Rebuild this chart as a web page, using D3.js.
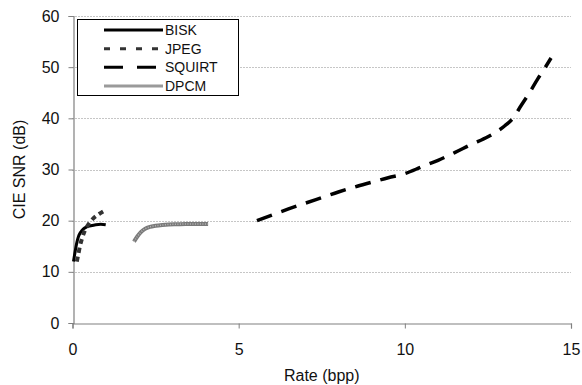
<!DOCTYPE html>
<html>
<head>
<meta charset="utf-8">
<script src="https://cdn.jsdelivr.net/npm/d3@7"></script>
<style>
  html, body { margin: 0; padding: 0; background: #fff; }
  svg { display: block; font-family: "Liberation Sans", Arial, sans-serif; }
</style>
</head>
<body>
<div id="chart"></div>
<script>
// Rate (bpp) vs CIE SNR (dB)
const biskRate = [0.03, 0.08, 0.13, 0.18, 0.25, 0.33, 0.43, 0.55, 0.7, 0.85, 1.0];
const biskSnr  = [12.0, 14.0, 15.7, 16.9, 17.8, 18.4, 18.8, 19.0, 19.2, 19.3, 19.2];

const jpegRate = [0.13, 0.18, 0.23, 0.29, 0.36, 0.45, 0.55, 0.67, 0.8, 0.95];
const jpegSnr  = [12.0, 13.6, 15.2, 16.6, 17.9, 19.0, 19.9, 20.7, 21.3, 21.9];

const squirtRate = [5.55, 6.0, 6.5, 7.0, 7.5, 8.0, 8.5, 9.0, 9.5, 10.0, 10.5, 11.0, 11.5, 12.0, 12.5, 13.0, 13.25, 13.5, 13.75, 14.0, 14.2, 14.4];
const squirtSnr  = [20.0, 21.1, 22.3, 23.4, 24.5, 25.6, 26.6, 27.5, 28.4, 29.2, 30.5, 31.8, 33.3, 34.9, 36.4, 38.5, 40.0, 42.5, 45.0, 47.7, 49.7, 51.8];

const dpcmRate = [1.85, 1.95, 2.05, 2.18, 2.33, 2.5, 2.7, 2.9, 3.15, 3.4, 3.7, 4.08];
const dpcmSnr  = [15.9, 16.9, 17.7, 18.4, 18.8, 19.0, 19.15, 19.25, 19.3, 19.35, 19.35, 19.35];

const xTicks = [0, 5, 10, 15];
const yTicks = [0, 10, 20, 30, 40, 50, 60];
const seriesNames = ['BISK', 'JPEG', 'SQUIRT', 'DPCM'];

const width = 582, height = 385;
const margin = { top: 16, right: 11, bottom: 62, left: 72.5 };

const svg = d3.select('#chart')
  .append('svg')
  .attr('width', width)
  .attr('height', height);

const x = d3.scaleLinear()
  .domain([0, 15])
  .range([margin.left, width - margin.right]);

const y = d3.scaleLinear()
  .domain([0, 60])
  .range([height - margin.bottom, margin.top]);

// dotted grid lines
svg.append('g')
  .selectAll('line')
  .data(yTicks.filter(d => d > 0))
  .enter()
  .append('line')
  .attr('x1', x(0))
  .attr('x2', x(15))
  .attr('y1', d => Math.round(y(d)) + 0.5)
  .attr('y2', d => Math.round(y(d)) + 0.5)
  .attr('stroke', '#8c8c8c')
  .attr('stroke-width', 1)
  .attr('stroke-dasharray', '1,2');

// axes
const xAxis = svg.append('g')
  .attr('transform', `translate(0,${Math.round(y(0)) + 0.5})`)
  .call(d3.axisBottom(x).tickValues(xTicks).tickSize(5).tickPadding(15).tickFormat(d3.format('d')));

const yAxis = svg.append('g')
  .attr('transform', `translate(${Math.round(x(0)) + 0.5},0)`)
  .call(d3.axisLeft(y).tickValues(yTicks).tickSize(5).tickPadding(9).tickFormat(d3.format('d')));

[xAxis, yAxis].forEach(g => {
  g.select('.domain').attr('stroke', '#808080').attr('stroke-width', 1.2);
  g.selectAll('.tick line').attr('stroke', '#808080');
  g.selectAll('.tick text')
    .style('font-family', '"Liberation Sans", Arial, sans-serif')
    .style('font-size', '16px')
    .style('fill', '#111');
});

// axis titles
svg.append('text')
  .attr('x', (x(0) + x(15)) / 2)
  .attr('y', 381)
  .attr('text-anchor', 'middle')
  .style('font-size', '16px')
  .style('fill', '#111')
  .text('Rate (bpp)');

svg.append('text')
  .attr('transform', `translate(25,${(y(0) + y(60)) / 2}) rotate(-90)`)
  .attr('text-anchor', 'middle')
  .style('font-size', '16px')
  .style('fill', '#111')
  .text('CIE SNR (dB)');

// series
const line = d3.line()
  .x(d => x(d[0]))
  .y(d => y(d[1]))
  .curve(d3.curveMonotoneX);

const series = [
  { name: 'BISK', pts: d3.zip(biskRate, biskSnr), stroke: '#000', width: 3, dash: null },
  { name: 'JPEG', pts: d3.zip(jpegRate, jpegSnr), stroke: '#333', width: 4, dash: '5,4' },
  { name: 'SQUIRT', pts: d3.zip(squirtRate, squirtSnr), stroke: '#000', width: 3.5, dash: '16,10' },
  { name: 'DPCM', pts: d3.zip(dpcmRate, dpcmSnr), stroke: '#7a7a7a', width: 4, dash: null }
];

const plot = svg.append('g');
series.forEach(s => {
  plot.append('path')
    .datum(s.pts)
    .attr('d', line)
    .attr('fill', 'none')
    .attr('stroke', s.stroke)
    .attr('stroke-width', s.width)
    .attr('stroke-dasharray', s.dash);
  if (s.name === 'DPCM') {
    // hatched texture on the grey line
    plot.append('path')
      .datum(s.pts)
      .attr('d', line)
      .attr('fill', 'none')
      .attr('stroke', '#b8b8b8')
      .attr('stroke-width', 1.5)
      .attr('stroke-dasharray', '1,1.5');
  }
});

// legend
const legend = svg.append('g');
legend.append('rect')
  .attr('x', 77.5)
  .attr('y', 19.5)
  .attr('width', 161)
  .attr('height', 76)
  .attr('fill', '#fff')
  .attr('stroke', '#000')
  .attr('stroke-width', 1);

const rowY = d3.scalePoint().domain(seriesNames).range([30, 86]);

series.forEach(s => {
  const ry = rowY(s.name);
  legend.append('line')
    .attr('x1', 104)
    .attr('x2', 163)
    .attr('y1', ry)
    .attr('y2', ry)
    .attr('stroke', s.name === 'DPCM' ? '#9a9a9a' : s.stroke)
    .attr('stroke-width', 3)
    .attr('stroke-dasharray', s.name === 'JPEG' ? '6,10' : (s.name === 'SQUIRT' ? '19,14' : null));
  legend.append('text')
    .attr('x', 165)
    .attr('y', ry + 5)
    .style('font-size', '14px')
    .style('fill', '#111')
    .text(s.name);
});
</script>
</body>
</html>
